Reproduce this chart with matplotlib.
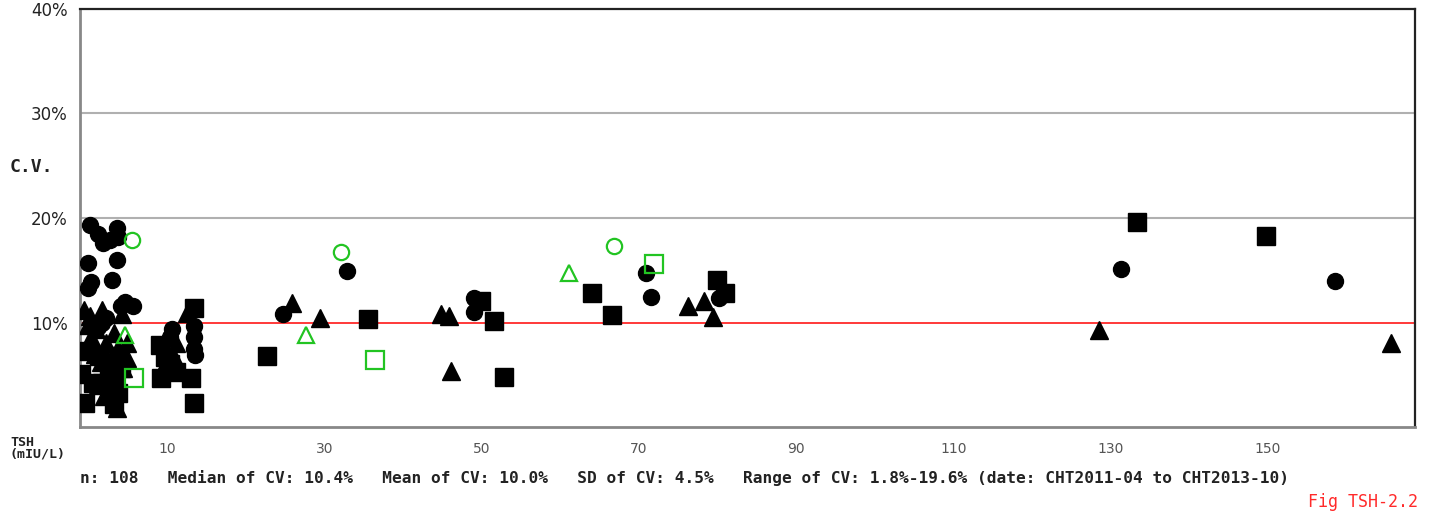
import matplotlib.pyplot as plt

# TSH (mIU/L) vs CV (%) per group / marker
circ_x = [0.2, 1.2, 1.9, 2.8, 3.6, 3.8, -0.1, 3.6, 0.3, -0.1, 3.0, 4.2, 5.7, 4.6, 1.2, 2.2, 1.8,
          10.6, 13.4, 13.4, 13.4, 13.5, 10.4, 4.0, 2.6,
          24.8, 32.9, 49.0, 49.0, 70.9, 71.5, 80.2, 131.3, 158.5]
circ_y = [19.3, 18.5, 17.6, 17.9, 19.0, 18.2, 15.7, 16.0, 13.9, 13.3, 14.1, 11.6, 11.6, 12.0, 9.6, 10.4, 10.0,
          9.4, 9.7, 8.6, 7.5, 6.9, 8.6, 6.2, 5.2,
          10.8, 14.9, 12.3, 11.0, 14.7, 12.4, 12.3, 15.1, 14.0]

sq_x = [-0.9, -0.9, -0.4, 3.2, 2.6, 3.2, 4.1, 1.8, 0.6, 3.8, 9.1, 9.7, 9.3, 11.2, 13.1, 13.4, 13.4, 10.4, 1.3,
        22.7, 35.6, 49.9, 51.6, 52.9, 64.1, 66.6, 80.0, 80.9, 133.3, 149.8]
sq_y = [7.3, 5.1, 2.3, 2.2, 5.8, 4.4, 5.6, 4.2, 4.2, 3.3, 7.8, 6.7, 4.7, 5.3, 4.7, 2.3, 11.4, 6.0, 6.8,
        6.8, 10.3, 12.1, 10.1, 4.8, 12.8, 10.7, 14.1, 12.8, 19.6, 18.3]

tri_x = [-0.6, 0.2, 1.7, 1.0, 0.4, 2.3, 4.3, 4.9, 3.8, 4.4, 2.2, 1.2, 2.9, 3.6, 1.6, 3.0, 2.0, 4.9, 0.0,
         12.5, 10.8, 9.9, 11.1, 0.9, 3.3,
         25.9, 29.5, 44.9, 45.8, 46.1, 76.2, 78.3, 79.4, 128.5, 165.6]
tri_y = [11.2, 10.6, 11.2, 9.4, 8.6, 8.0, 10.8, 6.6, 7.6, 5.6, 4.8, 4.0, 3.6, 1.8, 6.2, 6.9, 3.0, 8.0, 9.8,
         10.9, 6.9, 6.2, 8.0, 7.0, 9.0,
         11.9, 10.4, 10.8, 10.6, 5.4, 11.6, 12.1, 10.5, 9.3, 8.0]

g_circ_x = [5.6, 32.1, 66.8]
g_circ_y = [17.9, 16.7, 17.3]
g_tri_x = [4.6, 27.7, 61.1]
g_tri_y = [8.8, 8.8, 14.7]
g_sq_x = [5.8, 36.4, 71.9]
g_sq_y = [4.7, 6.4, 15.6]

xticks = [10, 30, 50, 70, 90, 110, 130, 150]
yticks = [10, 20, 30, 40]

stats = ("n: 108   Median of CV: 10.4%   Mean of CV: 10.0%   SD of CV: 4.5%   "
         "Range of CV: 1.8%-19.6% (date: CHT2011-04 to CHT2013-10)")

W, H = 1432, 516
fig = plt.figure(figsize=(W / 100, H / 100), dpi=100)
ax = fig.add_axes([80 / W, 1 - 427 / H, (1415 - 80) / W, (427 - 9) / H])

ax.set_xlim(-1.06, 168.7)
ax.set_ylim(0, 40)

for y in [20, 30]:
    ax.axhline(y, color='#b0b0b0', lw=1.5, zorder=1)
ax.axhline(10, color='#ff2a2a', lw=1.3, zorder=1)

ax.plot(circ_x, circ_y, 'o', ms=11.5, color='k', mec='k', zorder=3)
ax.plot(sq_x, sq_y, 's', ms=12.8, color='k', mec='k', zorder=3)
ax.plot(tri_x, tri_y, '^', ms=13, color='k', mec='k', zorder=3)

green = '#22c422'
ax.plot(g_circ_x, g_circ_y, 'o', ms=11, mfc='none', mec=green, mew=1.6, zorder=4)
ax.plot(g_tri_x, g_tri_y, '^', ms=12, mfc='none', mec=green, mew=1.6, zorder=4)
ax.plot(g_sq_x, g_sq_y, 's', ms=12.5, mfc='none', mec=green, mew=1.6, zorder=4)

ax.set_xticks(xticks)
ax.set_xticklabels([str(t) for t in xticks], fontsize=10, color='#555555')
ax.set_yticks(yticks)
ax.set_yticklabels([f'{t}%' for t in yticks], fontsize=12, color='#222222')
ax.tick_params(axis='both', length=0)
ax.tick_params(axis='x', pad=11)
ax.tick_params(axis='y', pad=9)

for s in ['left', 'bottom']:
    ax.spines[s].set_color('#888888')
    ax.spines[s].set_linewidth(2)
for s in ['top', 'right']:
    ax.spines[s].set_color('#222222')
    ax.spines[s].set_linewidth(1.6)

fig.text(10 / W, 1 - 167 / H, 'C.V.', fontsize=13, family='DejaVu Sans Mono',
         weight='bold', va='center', ha='left', color='#222222')
fig.text(10 / W, 1 - 448 / H, 'TSH\n(mIU/L)', fontsize=9.5, family='DejaVu Sans Mono',
         weight='bold', va='center', ha='left', linespacing=0.85, color='#222222')
fig.text(80 / W, 1 - 478 / H, stats, fontsize=11.6, family='DejaVu Sans Mono',
         weight='bold', va='center', ha='left', color='#222222')
fig.text(1418 / W, 1 - 502 / H, 'Fig TSH-2.2', fontsize=12, family='DejaVu Sans Mono',
         va='center', ha='right', color='#ff2a2a')

fig.savefig('out.png', dpi=100)
